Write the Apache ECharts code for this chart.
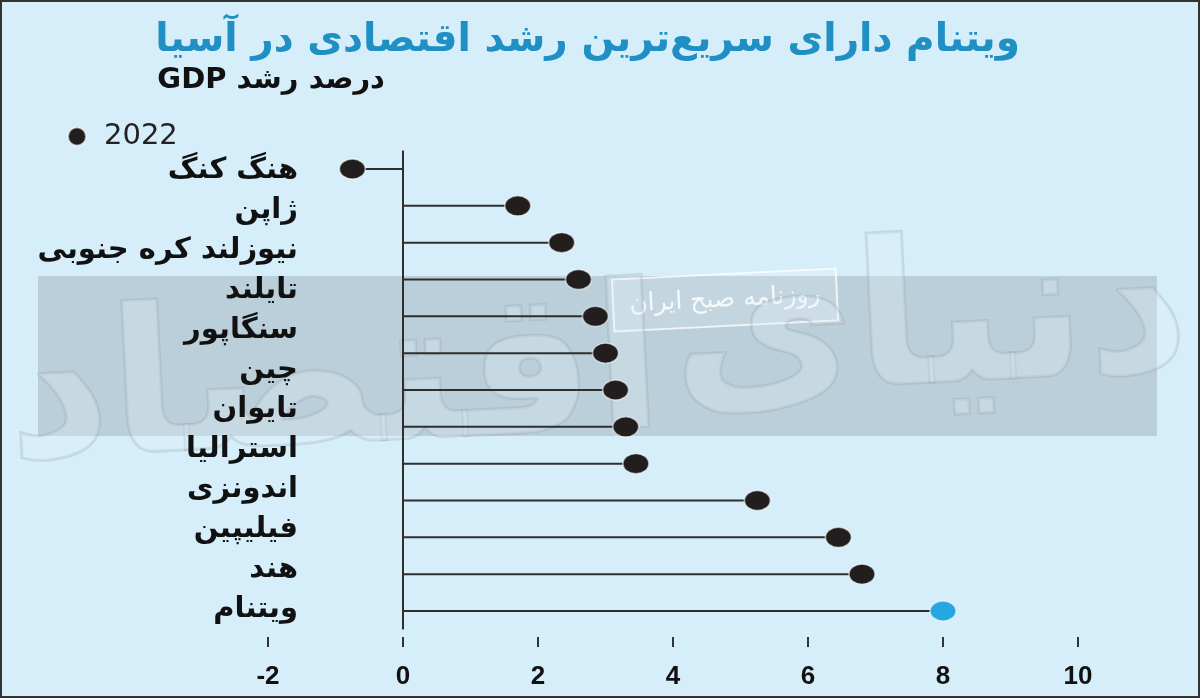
<!DOCTYPE html>
<html>
<head>
<meta charset="utf-8">
<script src="https://cdn.jsdelivr.net/npm/echarts@6/dist/echarts.min.js"></script>
<style>
html,body{margin:0;padding:0;background:#d5eefa;}
#chart{width:1200px;height:698px;}
</style>
</head>
<body>
<div id="chart"></div>
<script>
// ---- data ----
const titleText = 'ویتنام دارای سریع‌ترین رشد اقتصادی در آسیا';
const subtitleText = '\u202Bدرصد رشد GDP\u202C';
const seriesName = '2022';
// dots (13 countries) in top-to-bottom order
const countries = ['هنگ کنگ','ژاپن','نیوزلند','کره جنوبی','تایلند','سنگاپور','چین','تایوان','استرالیا','اندونزی','فیلیپین','هند','ویتنام'];
const gdp2022 = [-0.75, 1.7, 2.35, 2.6, 2.85, 3.0, 3.15, 3.3, 3.45, 5.25, 6.45, 6.8, 8.0];
// row labels as printed in the reference (12 labels)
const rowLabels = ['هنگ کنگ','ژاپن','نیوزلند کره جنوبی','تایلند','سنگاپور','چین','تایوان','استرالیا','اندونزی','فیلیپین','هند','ویتنام'];
const xTicks = [-2, 0, 2, 4, 6, 8, 10];
const highlight = 'ویتنام';
const watermarkText = 'روزنامه صبح ایران';
const watermarkBig = ['اقتصاد', 'دنیای'];

const FONT = "'DejaVu Sans', sans-serif";
const chart = echarts.init(document.getElementById('chart'));

const dotData = gdp2022.map((v, i) => countries[i] === highlight
  ? { value: v, itemStyle: { color: '#27a7df', borderColor: 'rgba(255,255,255,0.5)' } }
  : v);

chart.setOption({
  backgroundColor: '#d5eefa',
  animation: false,
  title: [
    { text: titleText, right: 175, top: 16,
      textStyle: { fontFamily: FONT, fontSize: 39, fontWeight: 'bold', color: '#1f8fc4' } },
    { text: subtitleText, right: 810, top: 61,
      textStyle: { fontFamily: FONT, fontSize: 29, fontWeight: 'bold', color: '#111' } }
  ],
  legend: {
    data: [seriesName], left: 62, top: 117, icon: 'circle',
    itemWidth: 24, itemHeight: 18,
    textStyle: { fontFamily: FONT, fontSize: 29, color: '#222', padding: [0, 0, 0, 10] }
  },
  grid: { left: 268, width: 810, top: 150.6, height: 478.8, containLabel: false },
  xAxis: {
    type: 'value', min: xTicks[0], max: xTicks[xTicks.length - 1], interval: 2,
    offset: 7.5, z: 10,
    axisLine: { show: false },
    axisTick: { show: true, length: 10, lineStyle: { color: '#333', width: 2 } },
    splitLine: { show: false },
    axisLabel: { margin: 27, fontFamily: "'Liberation Sans Narrow', 'Liberation Sans', sans-serif",
      fontWeight: 'bold', fontSize: 26, color: '#111' }
  },
  yAxis: [
    { type: 'category', data: rowLabels, inverse: true, position: 'left', offset: -30, z: 10,
      axisLine: { show: false }, axisTick: { show: false },
      axisLabel: { fontFamily: FONT, fontWeight: 'bold', fontSize: 29, color: '#111', margin: 0 } },
    { type: 'category', data: countries, inverse: true, position: 'left',
      axisLine: { show: false }, axisTick: { show: false }, axisLabel: { show: false } }
  ],
  graphic: [
    { type: 'rect', z: 0, silent: true,
      shape: { x: 38, y: 276, width: 1119, height: 160 },
      style: { fill: 'rgba(110,120,125,0.26)' } },
    { type: 'text', z: 1, silent: true, x: 335, y: 390, rotation: 0.05,
      style: { text: watermarkBig[0], align: 'center', verticalAlign: 'middle',
        font: "bold 200px 'DejaVu Sans', sans-serif",
        fill: 'rgba(225,242,252,0.3)', stroke: 'rgba(150,160,170,0.3)', lineWidth: 3 } },
    { type: 'text', z: 1, silent: true, x: 930, y: 330, rotation: 0.05,
      style: { text: watermarkBig[1], align: 'center', verticalAlign: 'middle',
        font: "bold 200px 'DejaVu Sans', sans-serif",
        fill: 'rgba(225,242,252,0.3)', stroke: 'rgba(150,160,170,0.3)', lineWidth: 3 } },
    { type: 'group', z: 1, x: 725, y: 300, rotation: 0.05, silent: true,
      children: [
        { type: 'rect', shape: { x: -112, y: -26, width: 224, height: 52 },
          style: { fill: 'rgba(255,255,255,0.14)', stroke: 'rgba(255,255,255,0.75)', lineWidth: 2 } },
        { type: 'text', style: { text: watermarkText, x: 0, y: 0, align: 'center', verticalAlign: 'middle',
          font: "25px 'DejaVu Sans', sans-serif", fill: 'rgba(255,255,255,0.85)' } }
      ] },
    { type: 'rect', z: 100, silent: true,
      shape: { x: 1, y: 1, width: 1198, height: 696 },
      style: { fill: 'none', stroke: '#333', lineWidth: 2 } }
  ],
  series: [
    { type: 'bar', name: 'stem', yAxisIndex: 1, data: gdp2022, barWidth: 2, z: 3,
      itemStyle: { color: '#2e2e2e' }, silent: true,
      markLine: { silent: true, symbol: 'none', label: { show: false },
        lineStyle: { color: '#2e2e2e', width: 2, type: 'solid' },
        data: [{ xAxis: 0 }] } },
    { type: 'scatter', name: seriesName, yAxisIndex: 1, data: dotData, z: 5,
      symbol: 'circle', symbolSize: [26, 20],
      itemStyle: { color: '#231e1e', borderColor: 'rgba(255,255,255,0.55)', borderWidth: 1.5, opacity: 1 } }
  ]
});
</script>
</body>
</html>
